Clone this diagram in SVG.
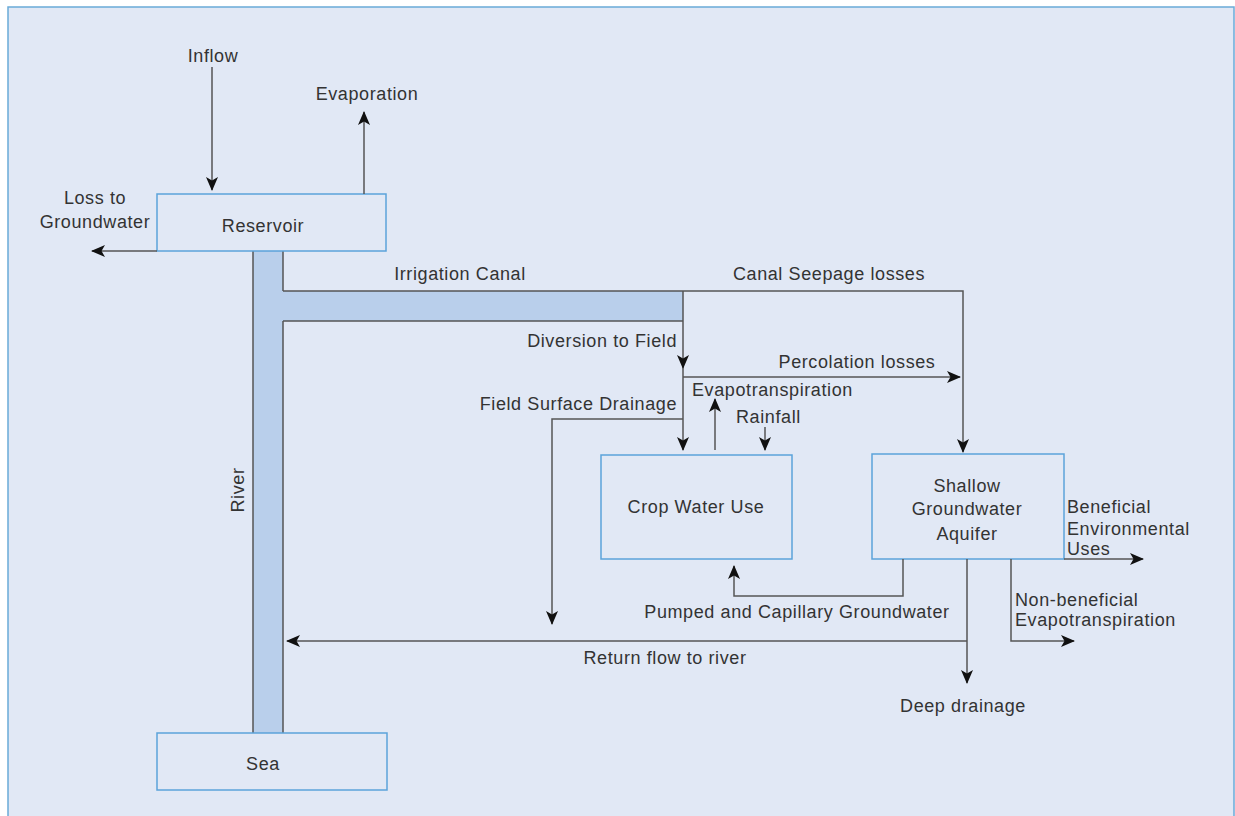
<svg xmlns="http://www.w3.org/2000/svg" width="1235" height="816" viewBox="0 0 1235 816">
<style>
text{font-family:"Liberation Sans",Arial,sans-serif;font-size:18px;fill:#333;letter-spacing:0.6px}
.m{text-anchor:middle}
.e{text-anchor:end}
.box{fill:#e1e8f5;stroke:#5ba3da;stroke-width:1.5}
.ln{fill:none;stroke:#555;stroke-width:1.5}
.ch{fill:#b9cfeb;stroke:none}
</style>
<defs>
<marker id="a" viewBox="0 0 14 12" refX="13" refY="6" markerWidth="14" markerHeight="12" markerUnits="userSpaceOnUse" orient="auto">
<path d="M0,0 L14,6 L0,12 L3.5,6 z" fill="#111"/>
</marker>
</defs>
<rect x="0" y="0" width="1235" height="816" fill="#ffffff"/>
<rect x="8" y="7" width="1226" height="815" fill="#e1e8f5" stroke="#6aaad8" stroke-width="1.5"/>

<g id="river">
<rect class="ch" x="253" y="251" width="30" height="482"/>
<line class="ln" x1="253" y1="251" x2="253" y2="733"/>
<line class="ln" x1="283" y1="251" x2="283" y2="291"/>
<line class="ln" x1="283" y1="321" x2="283" y2="733"/>
<text class="m" transform="translate(244,490) rotate(-90)">River</text>
</g>
<g id="canal">
<rect class="ch" x="283" y="291" width="400" height="30"/>
<line class="ln" x1="283" y1="291" x2="683" y2="291"/>
<line class="ln" x1="283" y1="321" x2="683" y2="321"/>
<text class="m" x="460" y="280">Irrigation Canal</text>
</g>

<g id="reservoir">
<rect class="box" x="157" y="194" width="229" height="57"/>
<text class="m" x="263" y="232">Reservoir</text>
</g>
<g id="sea">
<rect class="box" x="157" y="733" width="230" height="57"/>
<text class="m" x="263" y="770">Sea</text>
</g>
<g id="crop">
<rect class="box" x="601" y="455" width="191" height="104"/>
<text class="m" x="696" y="513">Crop Water Use</text>
</g>
<g id="aquifer">
<rect class="box" x="872" y="454" width="192" height="105"/>
<text class="m" x="967" y="492">Shallow</text>
<text class="m" x="967" y="515">Groundwater</text>
<text class="m" x="967" y="540">Aquifer</text>
</g>

<g id="connectors">
<line class="ln" x1="212" y1="67" x2="212" y2="190" marker-end="url(#a)"/>
<line class="ln" x1="364" y1="194" x2="364" y2="112" marker-end="url(#a)"/>
<line class="ln" x1="157" y1="251" x2="92" y2="251" marker-end="url(#a)"/>
<polyline class="ln" points="683,291 963,291 963,452" marker-end="url(#a)"/>
<line class="ln" x1="683" y1="291" x2="683" y2="368" marker-end="url(#a)"/>
<line class="ln" x1="683" y1="368" x2="683" y2="450" marker-end="url(#a)"/>
<line class="ln" x1="683" y1="377" x2="960" y2="377" marker-end="url(#a)"/>
<line class="ln" x1="715" y1="450" x2="715" y2="399" marker-end="url(#a)"/>
<line class="ln" x1="765" y1="427" x2="765" y2="450" marker-end="url(#a)"/>
<polyline class="ln" points="683,419 552,419 552,624" marker-end="url(#a)"/>
<polyline class="ln" points="903,559 903,596 734,596 734,566" marker-end="url(#a)"/>
<line class="ln" x1="967" y1="559" x2="967" y2="683" marker-end="url(#a)"/>
<line class="ln" x1="967" y1="641" x2="287" y2="641" marker-end="url(#a)"/>
<polyline class="ln" points="1011,559 1011,641 1074,641" marker-end="url(#a)"/>
<line class="ln" x1="1064" y1="559" x2="1143" y2="559" marker-end="url(#a)"/>
</g>

<g id="labels">
<text class="m" x="213" y="62">Inflow</text>
<text class="m" x="367" y="100">Evaporation</text>
<text class="m" x="95" y="204">Loss to</text>
<text class="m" x="95" y="228">Groundwater</text>
<text class="m" x="829" y="280">Canal Seepage losses</text>
<text class="e" x="677" y="347">Diversion to Field</text>
<text class="e" x="677" y="410">Field Surface Drainage</text>
<text class="m" x="857" y="368">Percolation losses</text>
<text x="692" y="396">Evapotranspiration</text>
<text x="736" y="423">Rainfall</text>
<text class="m" x="797" y="618">Pumped and Capillary Groundwater</text>
<text class="m" x="665" y="664">Return flow to river</text>
<text class="m" x="963" y="712">Deep drainage</text>
<text x="1015" y="606">Non-beneficial</text>
<text x="1015" y="626">Evapotranspiration</text>
<text x="1067" y="513">Beneficial</text>
<text x="1067" y="535">Environmental</text>
<text x="1067" y="555">Uses</text>
</g>
</svg>
